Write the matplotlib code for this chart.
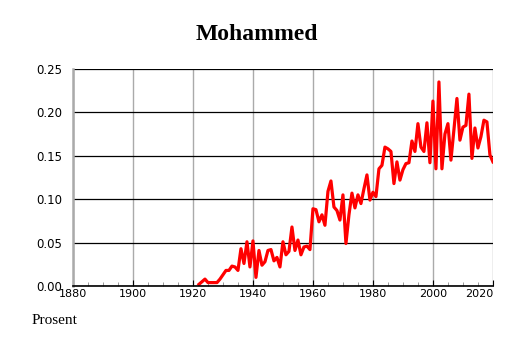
import matplotlib.pyplot as plt
from matplotlib.ticker import MultipleLocator

years = list(range(1922, 2021))
values = [0.002, 0.005, 0.008, 0.004, 0.004, 0.004, 0.004, 0.008, 0.013, 0.018,
          0.018, 0.023, 0.022, 0.018, 0.043, 0.026, 0.051, 0.022, 0.052, 0.010,
          0.041, 0.024, 0.028, 0.041, 0.042, 0.029, 0.033, 0.022, 0.051, 0.036,
          0.040, 0.068, 0.041, 0.053, 0.036, 0.045, 0.046, 0.042, 0.089, 0.088,
          0.074, 0.082, 0.070, 0.109, 0.121, 0.091, 0.087, 0.076, 0.105, 0.049,
          0.082, 0.107, 0.090, 0.105, 0.095, 0.112, 0.128, 0.099, 0.108, 0.103,
          0.135, 0.139, 0.160, 0.158, 0.155, 0.118, 0.143, 0.122, 0.134, 0.141,
          0.142, 0.167, 0.155, 0.187, 0.160, 0.155, 0.188, 0.142, 0.213, 0.135,
          0.235, 0.135, 0.175, 0.187, 0.145, 0.180, 0.216, 0.168, 0.183, 0.185,
          0.221, 0.147, 0.182, 0.159, 0.172, 0.191, 0.189, 0.151, 0.143]

x_ticks = [1880, 1900, 1920, 1940, 1960, 1980, 2000, 2020]
y_ticks = [0, 0.05, 0.10, 0.15, 0.20, 0.25]

fig = plt.figure(figsize=(5.14, 3.43), dpi=100)
ax = fig.add_axes([0.142, 0.166, 0.817, 0.633])

ax.plot(years, values, color='red', linewidth=2.3)

ax.set_xlim(1880, 2020)
ax.set_ylim(0, 0.25)
ax.set_xticks(x_ticks, [str(t) for t in x_ticks])
ax.xaxis.set_minor_locator(MultipleLocator(5))
ax.set_yticks(y_ticks, ['%.2f' % t for t in y_ticks])

ax.grid(axis='x', color='#aaaaaa', linewidth=1)
ax.grid(axis='y', color='black', linewidth=0.9)
ax.set_axisbelow(True)

for s in ['top', 'right']:
    ax.spines[s].set_visible(False)
ax.spines['left'].set_color('#aaaaaa')
ax.spines['left'].set_linewidth(1.8)
ax.spines['bottom'].set_linewidth(1.2)

ax.tick_params(axis='y', length=0, labelsize=8.5, pad=8)
ax.tick_params(axis='x', which='major', direction='in', length=4, labelsize=8, pad=2)
ax.tick_params(axis='x', which='minor', direction='in', length=3, color='#888888')

# last year label sits inside the plot edge
ax.get_xticklabels()[-1].set_horizontalalignment('right')

fig.text(0.5, 0.9, 'Mohammed', ha='center', va='center',
         family='Liberation Serif', fontsize=17, fontweight='bold')
fig.text(0.062, 0.067, 'Prosent', ha='left', va='center',
         family='Liberation Serif', fontsize=11)

fig.savefig('out.png', dpi=100)
